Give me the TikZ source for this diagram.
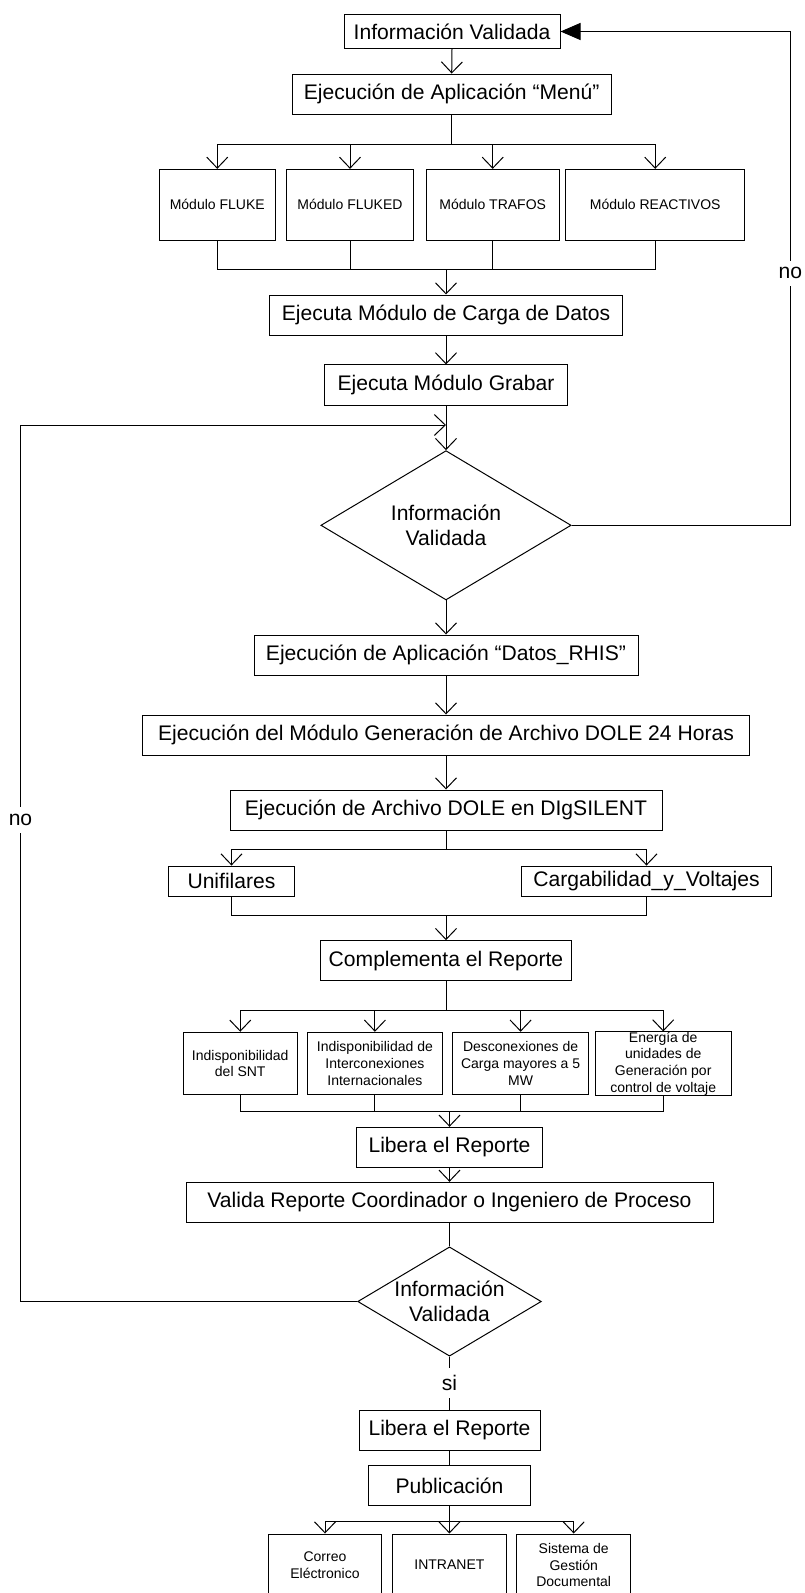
\documentclass[tikz,border=0pt]{standalone}
\usepackage{fontspec}
\setmainfont{Liberation Sans}
\usetikzlibrary{arrows.meta,shapes.geometric}
\begin{document}
\begin{tikzpicture}[x=1pt,y=-1pt,
  line width=1pt,
  every node/.style={inner sep=0pt},
  big/.style={font=\fontsize{21.1}{25}\selectfont},
  small/.style={font=\fontsize{14}{16.7}\selectfont, align=center},
  box/.style={draw, rectangle, fill=white, big},
  sbox/.style={draw, rectangle, fill=white, small},
  dec/.style={draw, diamond, fill=white},
  dtext/.style={big, align=center},
  arr/.style={-{Straight Barb[length=11pt,width=21pt]}},
  tri/.style={-{Triangle[length=20pt,width=17pt]}},
  lbl/.style={fill=white, big, inner xsep=1pt, inner ysep=7pt},
]
\useasboundingbox (0,0) rectangle (804,1593);

% ---- upper part: menu and modules
\node[box, minimum width=216, minimum height=34] (info1) at (452,31.5) {Información Validada};
\node[box, minimum width=318.6, minimum height=40.3] (menu) at (451.7,94.2) {Ejecución de Aplicación “Menú”};

\node[sbox, minimum width=115.7, minimum height=70.7] (m1) at (217.25,204.7) {Módulo FLUKE};
\node[sbox, minimum width=127, minimum height=70.7] (m2) at (350,204.7) {Módulo FLUKED};
\node[sbox, minimum width=133, minimum height=70.7] (m3) at (492.7,204.7) {Módulo TRAFOS};
\node[sbox, minimum width=178.5, minimum height=70.7] (m4) at (655.2,204.7) {Módulo REACTIVOS};

\node[box, minimum width=352.4, minimum height=40] (carga) at (446,315) {Ejecuta Módulo de Carga de Datos};
\node[box, minimum width=242.4, minimum height=40.7] (grabar) at (446,385.3) {Ejecuta Módulo Grabar};

\node[dec, minimum width=250.3, minimum height=149.3,
      label={[dtext]center:Información\\Validada}] (dia1) at (446,525.3) {};

% ---- middle part
\node[box, minimum width=384, minimum height=40] (datos) at (446,655) {Ejecución de Aplicación “Datos\_RHIS”};
\node[box, minimum width=606.5, minimum height=40] (dole) at (446,735) {Ejecución del Módulo Generación de Archivo DOLE 24 Horas};
\node[box, minimum width=432, minimum height=40] (dlg) at (446,810) {Ejecución de Archivo DOLE en DIgSILENT};

\node[box, minimum width=125.7, minimum height=30.7] (unif) at (231.5,881.4) {Unifilares};
\node[box, minimum width=250, minimum height=30.7] (carg) at (646.5,881.4) {Cargabilidad\_y\_Voltajes};

\node[box, minimum width=250.3, minimum height=40.3] (comp) at (446,960.8) {Complementa el Reporte};

\node[sbox, minimum width=113.5, minimum height=62.7] (s1) at (240.25,1063.6) {Indisponibilidad\\del SNT};
\node[sbox, minimum width=135.6, minimum height=62.7] (s2) at (374.9,1063.6) {Indisponibilidad de\\Interconexiones\\Internacionales};
\node[sbox, minimum width=136.4, minimum height=62.7] (s3) at (520.6,1063.6) {Desconexiones de\\Carga mayores a 5\\MW};
\node[sbox, minimum width=135.6, minimum height=62.7] (s4) at (663.2,1063.6) {Energía de\\unidades de\\Generación por\\control de voltaje};

% ---- lower part
\node[box, minimum width=186, minimum height=40] (lib1) at (449.5,1147.3) {Libera el Reporte};
\node[box, minimum width=527, minimum height=40] (valida) at (449.5,1202.3) {Valida Reporte Coordinador o Ingeniero de Proceso};

\node[dec, minimum width=183.6, minimum height=109.3,
      label={[dtext]center:Información\\Validada}] (dia2) at (449.5,1301.5) {};

\node[box, minimum width=181, minimum height=40] (lib2) at (449.5,1430) {Libera el Reporte};
\node[box, minimum width=161.7, minimum height=40] (pub) at (449.5,1485.7) {Publicación};

\node[sbox, minimum width=113.4, minimum height=62] (c1) at (325,1565) {Correo\\Eléctronico};
\node[sbox, minimum width=113.3, minimum height=62] (c2) at (449.4,1565) {INTRANET};
\node[sbox, minimum width=114, minimum height=62] (c3) at (573.7,1565) {Sistema de\\Gestión\\Documental};

% ---- junction points
\coordinate (b1) at (451.7,144);
\coordinate (k1) at (446,269.3);
\coordinate (j1) at (446,425);
\coordinate (r2) at (790.3,31.5);
\coordinate (b2) at (446,849.3);
\coordinate (k2) at (446,915.7);
\coordinate (b3) at (446,1010.7);
\coordinate (k3) at (449.5,1111);
\coordinate (l2) at (20.5,425);
\coordinate (b4) at (449.5,1521);

% ---- connectors
\draw[arr] (info1.south) -- (menu.north);
\draw (menu.south) -- (b1);
\draw[arr] (b1) -| (m1.north);
\draw[arr] (b1) -| (m2.north);
\draw[arr] (b1) -| (m3.north);
\draw[arr] (b1) -| (m4.north);
\draw (m1.south) |- (k1);
\draw (m2.south) |- (k1);
\draw (m3.south) |- (k1);
\draw (m4.south) |- (k1);
\draw[arr] (k1) -- (carga.north);
\draw[arr] (carga.south) -- (grabar.north);
\draw[arr] (grabar.south) -- (dia1.north);

\draw[tri] (dia1.east) -| (r2) -- (info1.east);
\node[lbl] (no1) at (790.3,273.3) {no};

\draw[arr] (dia1.south) -- (datos.north);
\draw[arr] (datos.south) -- (dole.north);
\draw[arr] (dole.south) -- (dlg.north);
\draw (dlg.south) -- (b2);
\draw[arr] (b2) -| (unif.north);
\draw[arr] (b2) -| (carg.north);
\draw (unif.south) |- (k2);
\draw (carg.south) |- (k2);
\draw[arr] (k2) -- (comp.north);
\draw (comp.south) -- (b3);
\draw[arr] (b3) -| (s1.north);
\draw[arr] (b3) -| (s2.north);
\draw[arr] (b3) -| (s3.north);
\draw[arr] (b3) -| (s4.north);
\draw (s1.south) |- (k3);
\draw (s2.south) |- (k3);
\draw (s3.south) |- (k3);
\draw (s4.south) |- (k3);
\draw[arr] (k3) -- (lib1.north);
\draw[arr] (lib1.south) -- (valida.north);
\draw (valida.south) -- (dia2.north);

\draw[arr] (dia2.west) -| (l2) -- (j1);
\node[lbl] (no2) at (20.5,820) {no};

\draw (dia2.south) -- node[lbl] (si) {si} (lib2.north);
\draw (lib2.south) -- (pub.north);
\draw (pub.south) -- (b4);
\draw[arr] (b4) -| (c1.north);
\draw[arr] (b4) -| (c2.north);
\draw[arr] (b4) -| (c3.north);
\end{tikzpicture}
\end{document}
